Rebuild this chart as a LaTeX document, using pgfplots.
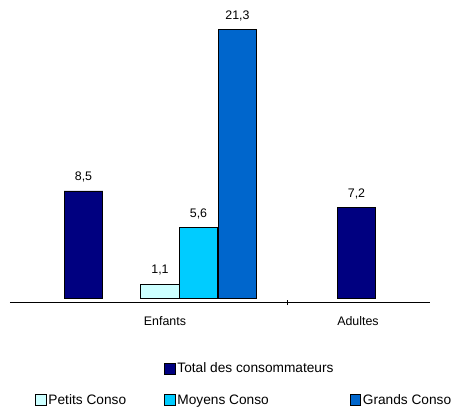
\documentclass[border=0pt]{standalone}
\usepackage{fontspec}
\setmainfont{Liberation Sans}
\usepackage{pgfplots}
\pgfplotsset{compat=1.18}
\definecolor{cTotal}{HTML}{000080}
\definecolor{cPetits}{HTML}{CCFFFF}
\definecolor{cMoyens}{HTML}{00CCFF}
\definecolor{cGrands}{HTML}{0066CC}
\begin{document}
\begin{tikzpicture}[x=1pt,y=1pt]
\useasboundingbox (0,0) rectangle (453,409);
\begin{axis}[
  at={(10pt,106.3pt)}, anchor=south west,
  scale only axis, width=420pt, height=300.7pt,
  xmin=10, xmax=430, ymin=-0.37, ymax=23.5,
  axis y line=none, axis x line*=bottom,
  axis line style={black, line width=0.8pt},
  ybar, bar width=38.7,
  xtick={165,358}, xticklabels={Enfants,Adultes},
  major tick length=0pt,
  extra x ticks={287}, extra x tick labels={},
  extra x tick style={major tick length=5pt, tick align=center, tick style={black, line width=0.6pt}},
  xticklabel style={font=\fontsize{12.4}{14}\selectfont, yshift=-10pt},
  /pgf/number format/assume math mode=true,
  nodes near coords,
  nodes near coords style={font=\fontsize{12.4}{14}\selectfont, yshift=5pt, black,
    /pgf/number format/.cd, use comma, fixed, fixed zerofill, precision=1},
  legend columns=3,
  legend image code/.code={\draw[#1, draw=black, line width=0.6pt] (0pt,-5.3pt) rectangle (10.7pt,5.3pt);},
  legend style={draw=none, fill=none, at={(0.0595,-0.193)}, anchor=north west,
    font=\fontsize{13.7}{16}\selectfont, inner sep=0pt, row sep=16pt,
    cells={anchor=west}},
]
\addlegendimage{empty legend}\addlegendentry{}
\addplot[ybar, bar shift=0pt, fill=cTotal, draw=black, line width=0.8pt] coordinates {(83.5,8.5) (356.5,7.2)};
\addlegendentry{Total des consommateurs\rule{14pt}{0pt}}
\addlegendimage{empty legend}\addlegendentry{}
\addplot[ybar, bar shift=0pt, fill=cPetits, draw=black, line width=0.8pt] coordinates {(160,1.1)};
\addlegendentry{Petits Conso\rule{36pt}{0pt}}
\addplot[ybar, bar shift=0pt, fill=cMoyens, draw=black, line width=0.8pt] coordinates {(198.5,5.6)};
\addlegendentry{Moyens Conso}
\addplot[ybar, bar shift=0pt, fill=cGrands, draw=black, line width=0.8pt] coordinates {(237.5,21.3)};
\addlegendentry{Grands Conso}
\end{axis}
\end{tikzpicture}
\end{document}
